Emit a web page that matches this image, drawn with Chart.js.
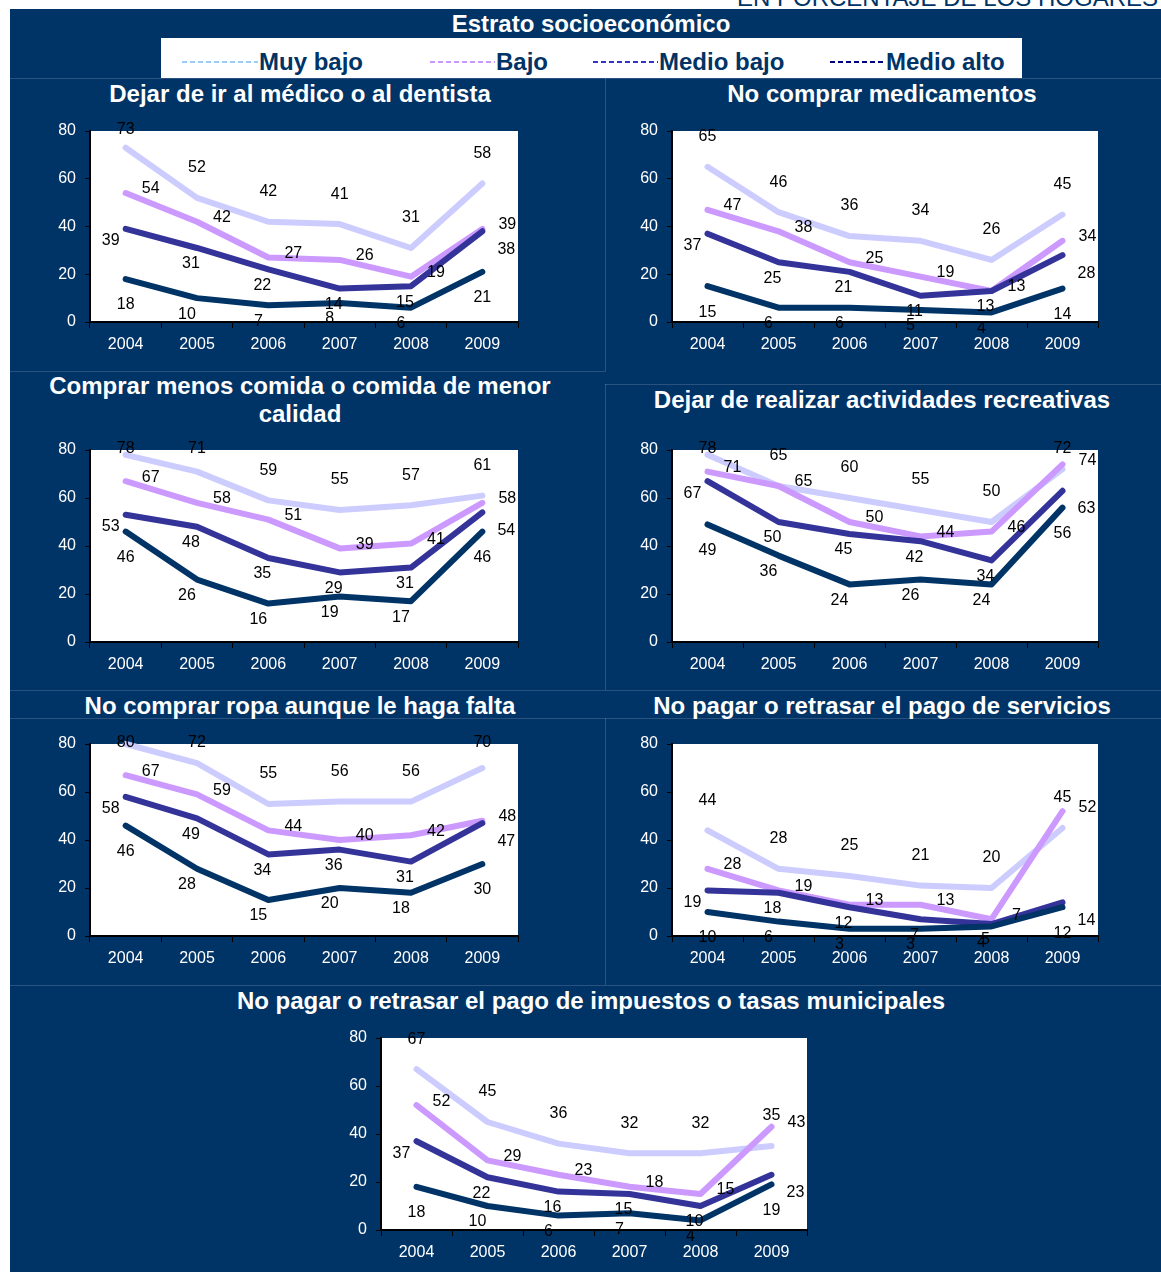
<!DOCTYPE html>
<html>
<head>
<meta charset="utf-8">
<script src="https://cdn.jsdelivr.net/npm/chart.js@4.4.1/dist/chart.umd.min.js"></script>
<style>
  body { margin: 0; width: 1161px; height: 1272px; background: #fff; position: relative; overflow: hidden;
         font-family: "Liberation Sans", Arial, sans-serif; }
  #topnote { position: absolute; right: 3px; top: -14px; font-size: 24px; line-height: 24px; color: #003366; white-space: nowrap; }
  #bg { position: absolute; left: 10px; top: 9px; right: 0; bottom: 0; background: #003366; }
  .ttl { position: absolute; width: 620px; color: #fff; font-weight: bold; font-size: 24px; line-height: 28px; text-align: center; }
  #legend { position: absolute; left: 161px; top: 38px; width: 861px; height: 40px; background: #fff; }
  .lg { position: absolute; top: 4px; height: 40px; display: flex; align-items: center; font-weight: bold; font-size: 24px; color: #003366; white-space: nowrap; }
  .lg svg { margin-right: 1px; }
  .sep { position: absolute; background: rgba(255,255,255,0.16); }
  canvas { position: absolute; }
</style>
</head>
<body>
<div id="bg"></div>
<div id="topnote">EN PORCENTAJE DE LOS HOGARES</div>

<!-- faint cell borders of the original slide table -->
<div class="sep" style="left:10px;top:78px;width:1151px;height:1px"></div>
<div class="sep" style="left:605px;top:78px;width:1px;height:293px"></div>
<div class="sep" style="left:10px;top:371px;width:596px;height:1px"></div>
<div class="sep" style="left:605px;top:384px;width:556px;height:1px"></div>
<div class="sep" style="left:605px;top:384px;width:1px;height:306px"></div>
<div class="sep" style="left:10px;top:690px;width:1151px;height:1px"></div>
<div class="sep" style="left:10px;top:718px;width:1151px;height:1px"></div>
<div class="sep" style="left:605px;top:718px;width:1px;height:267px"></div>
<div class="sep" style="left:10px;top:985px;width:1151px;height:1px"></div>

<div class="ttl" style="left:281px;top:10px">Estrato socioeconómico</div>
<div id="legend"></div>

<script>
const years = ['2004', '2005', '2006', '2007', '2008', '2009'];
const seriesNames = ['Muy bajo', 'Bajo', 'Medio bajo', 'Medio alto'];

// one row per estrato: Muy bajo, Bajo, Medio bajo, Medio alto
const medico = [
  [73, 52, 42, 41, 31, 58],
  [54, 42, 27, 26, 19, 39],
  [39, 31, 22, 14, 15, 38],
  [18, 10, 7, 8, 6, 21]
];
const medicamentos = [
  [65, 46, 36, 34, 26, 45],
  [47, 38, 25, 19, 13, 34],
  [37, 25, 21, 11, 13, 28],
  [15, 6, 6, 5, 4, 14]
];
const comida = [
  [78, 71, 59, 55, 57, 61],
  [67, 58, 51, 39, 41, 58],
  [53, 48, 35, 29, 31, 54],
  [46, 26, 16, 19, 17, 46]
];
const recreativas = [
  [78, 65, 60, 55, 50, 72],
  [71, 65, 50, 44, 46, 74],
  [67, 50, 45, 42, 34, 63],
  [49, 36, 24, 26, 24, 56]
];
const ropa = [
  [80, 72, 55, 56, 56, 70],
  [67, 59, 44, 40, 42, 48],
  [58, 49, 34, 36, 31, 47],
  [46, 28, 15, 20, 18, 30]
];
const servicios = [
  [44, 28, 25, 21, 20, 45],
  [28, 19, 13, 13, 7, 52],
  [19, 18, 12, 7, 5, 14],
  [10, 6, 3, 3, 4, 12]
];
const impuestos = [
  [67, 45, 36, 32, 32, 35],
  [52, 29, 23, 18, 15, 43],
  [37, 22, 16, 15, 10, 23],
  [18, 10, 6, 7, 4, 19]
];

const yTicks = [0, 20, 40, 60, 80];

// styles
const seriesColors = ['#ccccff', '#cc99ff', '#333399', '#003366'];
const legendColors = ['#99ccff', '#cc99ff', '#3333cc', '#000080'];
const legendX = [182, 430, 593, 830];
const legendLineW = [76, 65, 65, 55];

// where the value labels sit relative to each point (per estrato)
const labelShift = [
  i => [0, -30],
  i => [25, -4],
  i => i === 0 ? [-15, 12] : i === 5 ? [24, 18] : [-6, 16],
  i => i === 0 || i === 5 ? [0, 26] : [-10, 16]
];

// panels: title, data and plot rectangle (page pixels)
const panels = [
  { title: 'Dejar de ir al médico o al dentista', data: medico, cx: 300, ty: 80, l: 90, t: 131, r: 518, b: 322 },
  { title: 'No comprar medicamentos', data: medicamentos, cx: 882, ty: 80, l: 672, t: 131, r: 1098, b: 322 },
  { title: 'Comprar menos comida o comida de menor calidad', data: comida, cx: 300, ty: 372, l: 90, t: 450, r: 518, b: 642, w: 520 },
  { title: 'Dejar de realizar actividades recreativas', data: recreativas, cx: 882, ty: 386, l: 672, t: 450, r: 1098, b: 642 },
  { title: 'No comprar ropa aunque le haga falta', data: ropa, cx: 300, ty: 692, l: 90, t: 744, r: 518, b: 936 },
  { title: 'No pagar o retrasar el pago de servicios', data: servicios, cx: 882, ty: 692, l: 672, t: 744, r: 1098, b: 936 },
  { title: 'No pagar o retrasar el pago de impuestos o tasas municipales', data: impuestos, cx: 591, ty: 987, l: 381, t: 1038, r: 807, b: 1230, w: 900 }
];

Chart.defaults.font.family = '"Liberation Sans", Arial, sans-serif';

// legend
const legend = document.getElementById('legend');
seriesNames.forEach((name, k) => {
  const item = document.createElement('div');
  item.className = 'lg';
  item.style.left = (legendX[k] - 161) + 'px';
  item.innerHTML = `<svg width="${legendLineW[k]}" height="6"><line x1="0" y1="3" x2="${legendLineW[k]}" y2="3" stroke="${legendColors[k]}" stroke-width="2" stroke-dasharray="5 3"/></svg>${name}`;
  legend.appendChild(item);
});

// white plot area
const plotBg = {
  id: 'plotBg',
  beforeDraw(chart) {
    const { ctx, chartArea: a } = chart;
    ctx.save();
    ctx.fillStyle = '#fff';
    ctx.fillRect(a.left, a.top, a.right - a.left, a.bottom - a.top);
    ctx.restore();
  }
};

// value labels
const pointLabels = {
  id: 'pointLabels',
  afterDatasetsDraw(chart) {
    const { ctx, chartArea: a } = chart;
    ctx.save();
    ctx.font = '16px "Liberation Sans", Arial, sans-serif';
    ctx.fillStyle = '#000';
    ctx.textAlign = 'center';
    ctx.textBaseline = 'middle';
    chart.data.datasets.forEach((ds, d) => {
      chart.getDatasetMeta(d).data.forEach((pt, i) => {
        const [dx, dy] = labelShift[d](i);
        let y = pt.y + dy;
        if (d === 0) y = Math.max(y, a.top - 1);
        ctx.fillText(ds.data[i], pt.x + dx, y);
      });
    });
    ctx.restore();
  }
};

function addPanel(p) {
  // title
  const w = p.w || 620;
  const ttl = document.createElement('div');
  ttl.className = 'ttl';
  ttl.style.left = (p.cx - w / 2) + 'px';
  ttl.style.top = p.ty + 'px';
  ttl.style.width = w + 'px';
  ttl.textContent = p.title;
  document.body.appendChild(ttl);

  // chart canvas sized so the plot area lands on the rectangle
  const padL = 52, padT = 24, padR = 50, padB = 42;
  const cw = p.r - p.l + padL + padR, ch = p.b - p.t + padT + padB;
  const cv = document.createElement('canvas');
  cv.width = cw; cv.height = ch;
  cv.style.left = (p.l - padL) + 'px';
  cv.style.top = (p.t - padT) + 'px';
  cv.style.width = cw + 'px';
  cv.style.height = ch + 'px';
  document.body.appendChild(cv);

  new Chart(cv, {
    type: 'line',
    data: {
      labels: years,
      datasets: p.data.map((vals, k) => ({
        label: seriesNames[k],
        data: vals,
        borderColor: seriesColors[k],
        borderWidth: 6,
        borderCapStyle: 'round',
        borderJoinStyle: 'round',
        pointRadius: 0,
        tension: 0,
        fill: false,
        clip: false,
        order: 4 - k
      }))
    },
    options: {
      responsive: false,
      animation: false,
      devicePixelRatio: 1,
      layout: { padding: { top: padT, right: padR, bottom: 0, left: 0 } },
      plugins: {
        legend: { display: false },
        tooltip: { enabled: false }
      },
      scales: {
        x: {
          offset: true,
          grid: { offset: true, drawOnChartArea: false, drawTicks: true, tickLength: 6, color: '#000' },
          border: { color: '#000', width: 2 },
          ticks: { color: '#fff', font: { size: 16 }, padding: 7, maxRotation: 0, autoSkip: false },
          afterFit: s => { s.height = padB; }
        },
        y: {
          min: 0,
          max: 80,
          afterBuildTicks: s => { s.ticks = yTicks.map(v => ({ value: v })); },
          grid: { drawOnChartArea: false, drawTicks: true, tickLength: 5, color: '#000' },
          border: { color: '#000', width: 2 },
          ticks: { color: '#fff', font: { size: 16 }, padding: 9 },
          afterFit: s => { s.width = padL; }
        }
      }
    },
    plugins: [plotBg, pointLabels]
  });
}

panels.forEach(addPanel);
</script>
</body>
</html>
